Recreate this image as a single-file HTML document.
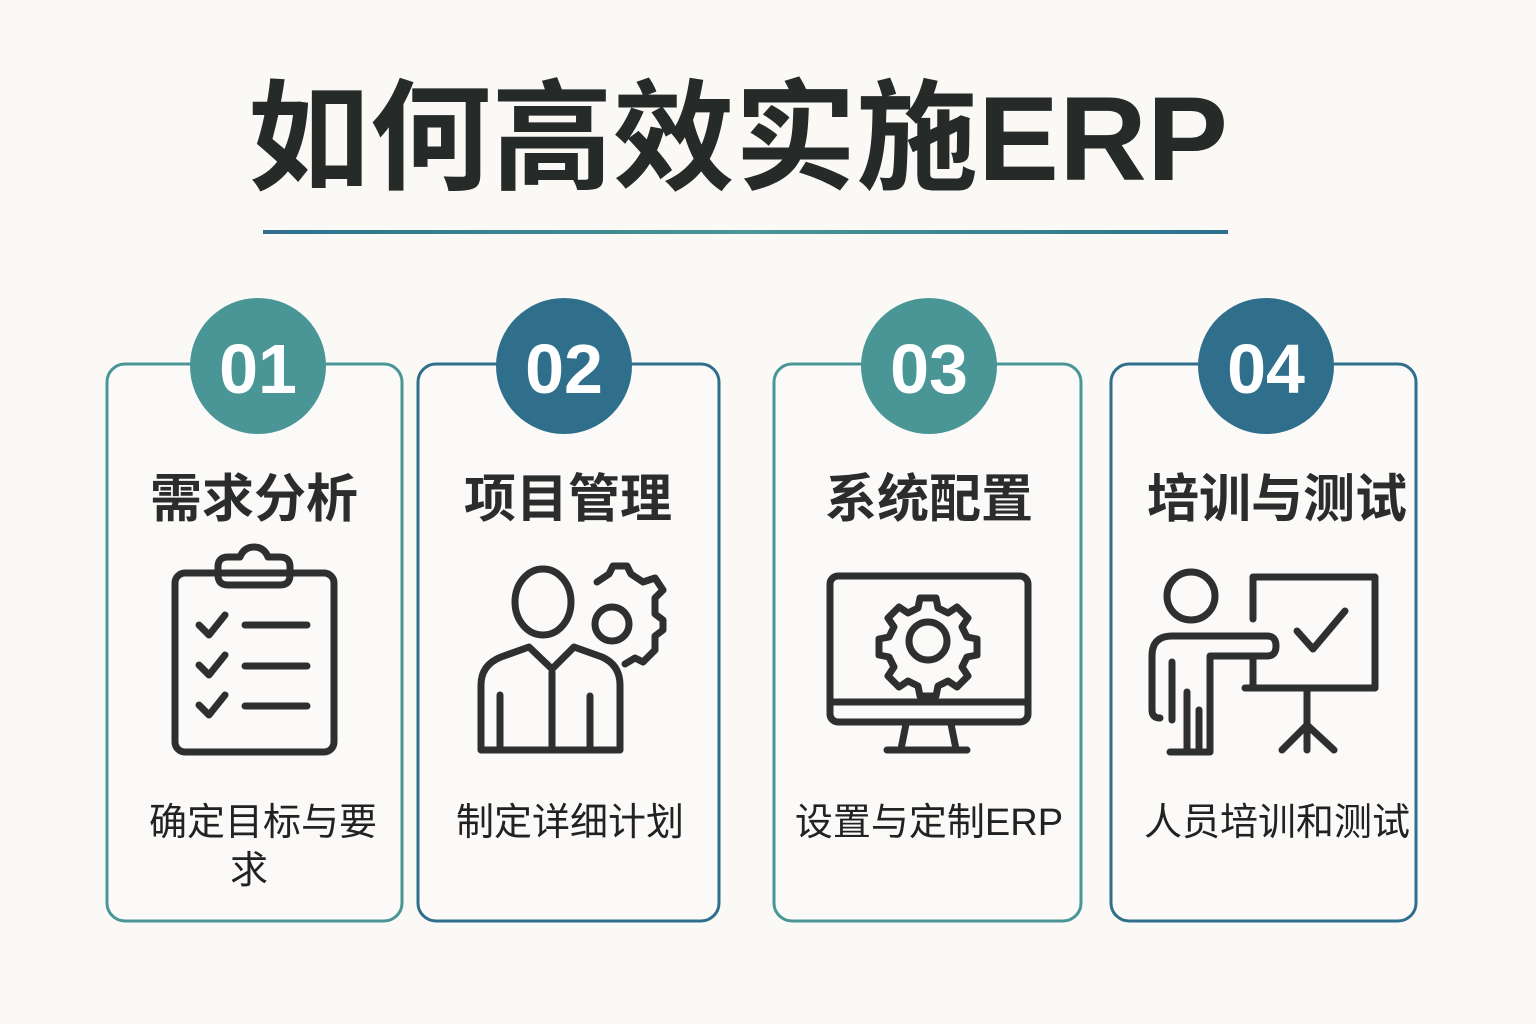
<!DOCTYPE html>
<html><head><meta charset="utf-8"><style>
html,body{margin:0;padding:0;background:#faf9f6;}
svg{display:block}
text{font-family:"Liberation Sans","Noto Sans CJK SC",sans-serif;}
</style></head><body>
<svg width="1536" height="1024" viewBox="0 0 1536 1024" xmlns="http://www.w3.org/2000/svg">
<defs>
<linearGradient id="lg" x1="0" x2="1"><stop offset="0" stop-color="#2f6f8c"/><stop offset="0.5" stop-color="#4a9697"/><stop offset="1" stop-color="#2f6f8c"/></linearGradient>
</defs>
<rect width="1536" height="1024" fill="#faf9f6"/>
<text x="738" y="180" text-anchor="middle" font-size="120" font-weight="bold" fill="#262a28" textLength="980" lengthAdjust="spacingAndGlyphs">如何高效实施ERP</text>
<rect x="263" y="230" width="965" height="4" fill="url(#lg)"/>

<g fill="#fbfaf8" stroke-width="3">
<rect x="107" y="364" width="295" height="557" rx="18" stroke="#4a9697"/>
<rect x="418" y="364" width="301" height="557" rx="18" stroke="#2f6f8c"/>
<rect x="774" y="364" width="307" height="557" rx="18" stroke="#4a9697"/>
<rect x="1111" y="364" width="305" height="557" rx="18" stroke="#2f6f8c"/>
</g>
<circle cx="258" cy="366" r="68" fill="#4a9697"/>
<circle cx="564" cy="366" r="68" fill="#2f6f8c"/>
<circle cx="929" cy="366" r="68" fill="#4a9697"/>
<circle cx="1266" cy="366" r="68" fill="#2f6f8c"/>
<g font-size="70" font-weight="bold" fill="#fff" text-anchor="middle">
<text x="258" y="393">01</text><text x="564" y="393">02</text><text x="929" y="393">03</text><text x="1266" y="393">04</text>
</g>
<g font-size="52" font-weight="bold" fill="#2a2d2c" text-anchor="middle">
<text x="254" y="517">需求分析</text><text x="568" y="517">项目管理</text><text x="929" y="517">系统配置</text><text x="1277" y="517">培训与测试</text>
</g>
<g font-size="38" fill="#222" text-anchor="middle">
<text x="263" y="835">确定目标与要</text><text x="249" y="883">求</text>
<text x="570" y="835">制定详细计划</text>
<text x="929" y="835">设置与定制ERP</text>
<text x="1277" y="835">人员培训和测试</text>
</g>

<g fill="none" stroke="#2d302f" stroke-width="7" stroke-linecap="round" stroke-linejoin="round">
<rect x="175" y="573" width="159" height="179" rx="10"/>
<path d="M218 575 v-8 q0-10 10-10 h12 q4-10 14-10 q10 0 14 10 h12 q10 0 10 10 v8 q0 10 -10 10 h-52 q-10 0 -10-10z"/>
<path d="M199 625 l10 10 l16-20 M245 625 h62 M199 665 l10 10 l16-20 M245 666 h62 M199 705 l10 10 l16-20 M245 706 h62"/>
<ellipse cx="543" cy="602" rx="28" ry="33"/>
<path d="M481 750 v-65 q0-20 20-28 l28-10 l23 22 l22-22 l28 10 q18 8 18 28 v65 z M552 672 v78 M500 695 v55 M590 696 v54 h-13"/>
<path d="M597 582 l12-8 l4-8 h14 l4 8 l12 8 l12-4 l8 12 l-8 8 v16 l8 6 v10 l-8 6 v14 l-12 12 l-8-4 l-10 6"/>
<circle cx="612" cy="624" r="17"/>
<rect x="830" y="576" width="198" height="146" rx="8"/>
<path d="M830 702 h198 M906 724 l-5 25 M951 724 l5 25 M887 750 h80"/>
<circle cx="928" cy="641" r="19"/>
<path d="M920 598 h16 l2 10 l10 5 l9-6 l11 11 l-6 9 l5 10 l10 2 v16 l-10 2 l-5 10 l6 9 l-11 11 l-9-6 l-10 5 l-2 10 h-16 l-2-10 l-10-5 l-9 6 l-11-11 l6-9 l-5-10 l-10-2 v-16 l10-2 l5-10 l-6-9 l11-11 l9 6 l10-5 z"/>
<circle cx="1191" cy="596" r="24"/>
<path d="M1170 752 h40 v-96 h57 q9 0 9-10 q0-10 -9-10 h-95 q-20 0 -20 20 v54 q0 8 8 8 M1187 692 v60 M1172 662 v58 M1199 710 v40"/>
<path d="M1253 577 v42 M1253 577 h122 M1375 577 v110 M1253 659 v28 M1245 688 h130 M1297 631 l16 18 l32-38 M1307 690 v60 M1282 750 l25-25 l27 25"/>
</g>
</svg>
</body></html>
